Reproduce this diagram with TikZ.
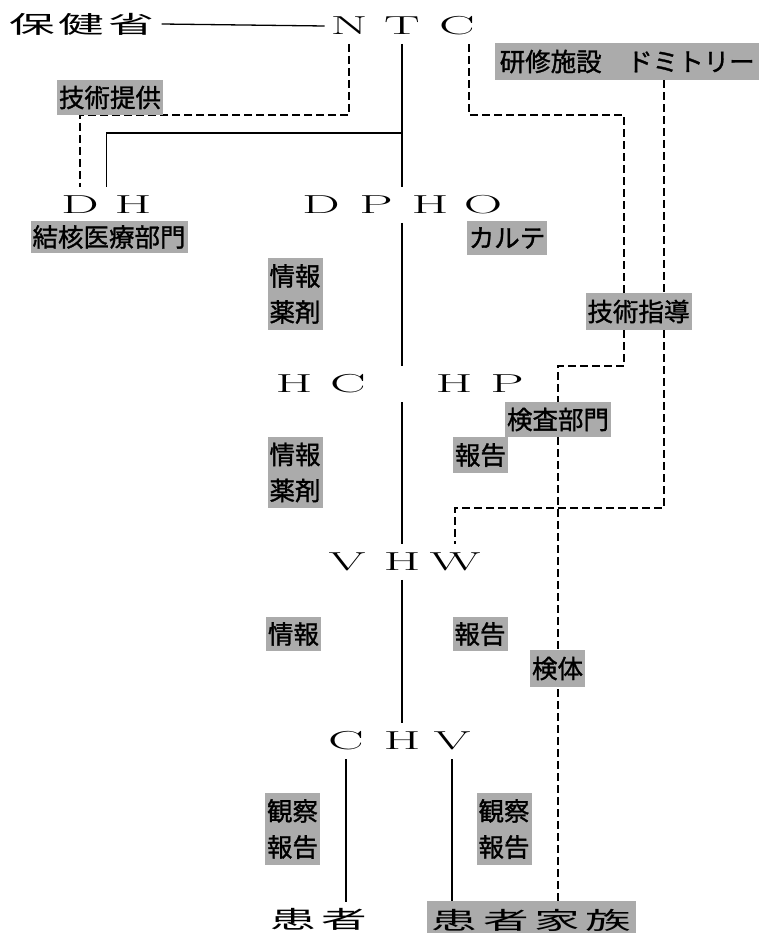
\documentclass[tikz,border=0pt]{standalone}
\usepackage{fontspec}
\usepackage{graphicx}
\newfontfamily\cjk{Noto Sans CJK JP}
\newfontfamily\cjklab[FakeBold=1.2]{Noto Sans CJK JP}
\usetikzlibrary{calc,backgrounds}
\newcommand{\Wide}[1]{\scalebox{2.05}[1]{#1}}
\newcommand{\BigCJ}[1]{\scalebox{1.9}[1]{#1}}
\newcommand{\cb}[1]{\makebox[26pt]{#1}}
\newcommand{\cbb}[1]{\makebox[27pt]{#1}}
\begin{document}
\begin{tikzpicture}[x=1pt,y=-1pt,
  ltr/.style={inner sep=0pt,outer xsep=6pt,outer ysep=9pt,font=\fontsize{26}{26}\selectfont},
  lbl/.style={fill=black!33,inner xsep=2pt,inner ysep=0pt,minimum height=35pt,
              font=\cjklab\fontsize{25.5}{36}\selectfont,align=center},
  big/.style={inner sep=0pt,outer sep=6pt,font=\cjk\fontsize{24}{24}\selectfont},
  sl/.style={line width=1.3pt},
  dl/.style={line width=1.3pt,dash pattern=on 8pt off 4pt}]
\useasboundingbox (0,0) rectangle (758,933);

% big texts
\node[big] (hoken) at (81.5,24) {\BigCJ{\cb{保}\cb{健}\cb{省}}};
\node[big] (kanja) at (318.5,919) {\BigCJ{\cbb{患}\cbb{者}}};
\node[big,outer sep=0pt,fill=black!33,inner xsep=2pt,minimum height=38pt] (kazoku) at (531.5,920)
  {\BigCJ{\cbb{患}\cbb{者}\cbb{家}\cbb{族}}};

% letters
\node[ltr] (nN) at (349,26) {\Wide{N}};
\node[ltr] (nT) at (402,26) {\Wide{T}};
\node[ltr] (nC) at (457,26) {\Wide{C}};
\node[ltr] (dhD) at (80,205) {\Wide{D}};
\node[ltr] (dhH) at (133,205) {\Wide{H}};
\node[ltr] (dD) at (321,205) {\Wide{D}};
\node[ltr] (dP) at (376,205) {\Wide{P}};
\node[ltr] (dH) at (430,205) {\Wide{H}};
\node[ltr] (dO) at (483,205) {\Wide{O}};
\node[ltr] (hcH) at (294,384) {\Wide{H}};
\node[ltr] (hcC) at (348,384) {\Wide{C}};
\node[ltr] (hpH) at (454,384) {\Wide{H}};
\node[ltr] (hpP) at (507,384) {\Wide{P}};
\node[ltr] (vV) at (347,562) {\Wide{V}};
\node[ltr] (vH) at (402,562) {\Wide{H}};
\node[ltr] (vW) at (455,562) {\Wide{W}};
\node[ltr] (cC) at (346,741) {\Wide{C}};
\node[ltr] (cH) at (402,741) {\Wide{H}};
\node[ltr] (cV) at (452,741) {\Wide{V}};

% labels
\node[lbl] (tk) at (110,97.5) {技術提供};
\node[lbl,minimum height=32pt] (kekkaku) at (109,237) {結核医療部門};
\node[lbl,minimum height=33pt] (karte) at (507,238) {カルテ};
\node[lbl,anchor=west,minimum height=37pt,minimum width=264pt] (kenshu) at (495,61.5) {研修施設　ドミトリー};
\node[lbl,minimum height=72pt] (jy1) at (295,294) {情報\\薬剤};
\node[lbl,minimum height=37pt] (gs) at (638.5,311.5) {技術指導};
\node[lbl] (kensa) at (558,419.5) {検査部門};
\node[lbl,minimum height=36pt] (hk1) at (480.5,455) {報告};
\node[lbl,minimum height=71pt] (jy2) at (295,472.5) {情報\\薬剤};
\node[lbl,minimum height=34pt] (jh3) at (293.5,634) {情報};
\node[lbl,minimum height=34pt] (hk2) at (480,634) {報告};
\node[lbl,minimum height=37pt] (ktai) at (557.5,668.5) {検体};
\node[lbl,minimum height=72pt] (kz1) at (292.5,829) {観察\\報告};
\node[lbl,minimum height=72pt] (kz2) at (504,829) {観察\\報告};

\begin{scope}[on background layer]
  % solid connectors
  \draw[sl] (hoken.east) -- (nN.west);
  \draw[sl] (nT.south) -- (nT.south |- dP.north);
  \draw[sl] (nT.south |- 0,133) -| ($(dhD.north)!0.5!(dhH.north)$);
  \draw[sl] (nT.south |- dP.south) -- (nT.south |- hcC.north);
  \draw[sl] (vH.north |- hcC.south) -- (vH.north);
  \draw[sl] (vH.south) -- (vH.south |- cH.north);
  \draw[sl] (cC.south) -- (cC.south |- kanja.north);
  \draw[sl] (cV.south) -- (cV.south |- kazoku.north);
  % dashed connectors
  \draw[dl] (nN.south) -- (nN.south |- 0,115) -| (dhD.north);
  \draw[dl] ([xshift=12pt]nC.south) |- (624,115) -- (gs.north -| 624,0);
  \draw[dl] (kenshu.south -| 664,0) -- (gs.north -| 664,0);
  \draw[dl] (gs.south -| 624,0) |- (kensa.north |- 0,366) -- (kensa.north);
  \draw[dl] (kensa.south) -- (kensa.south |- kazoku.north);
  \draw[dl] (gs.south -| 664,0) |- (vW.north |- 0,508) -- (vW.north);
\end{scope}
\end{tikzpicture}
\end{document}
